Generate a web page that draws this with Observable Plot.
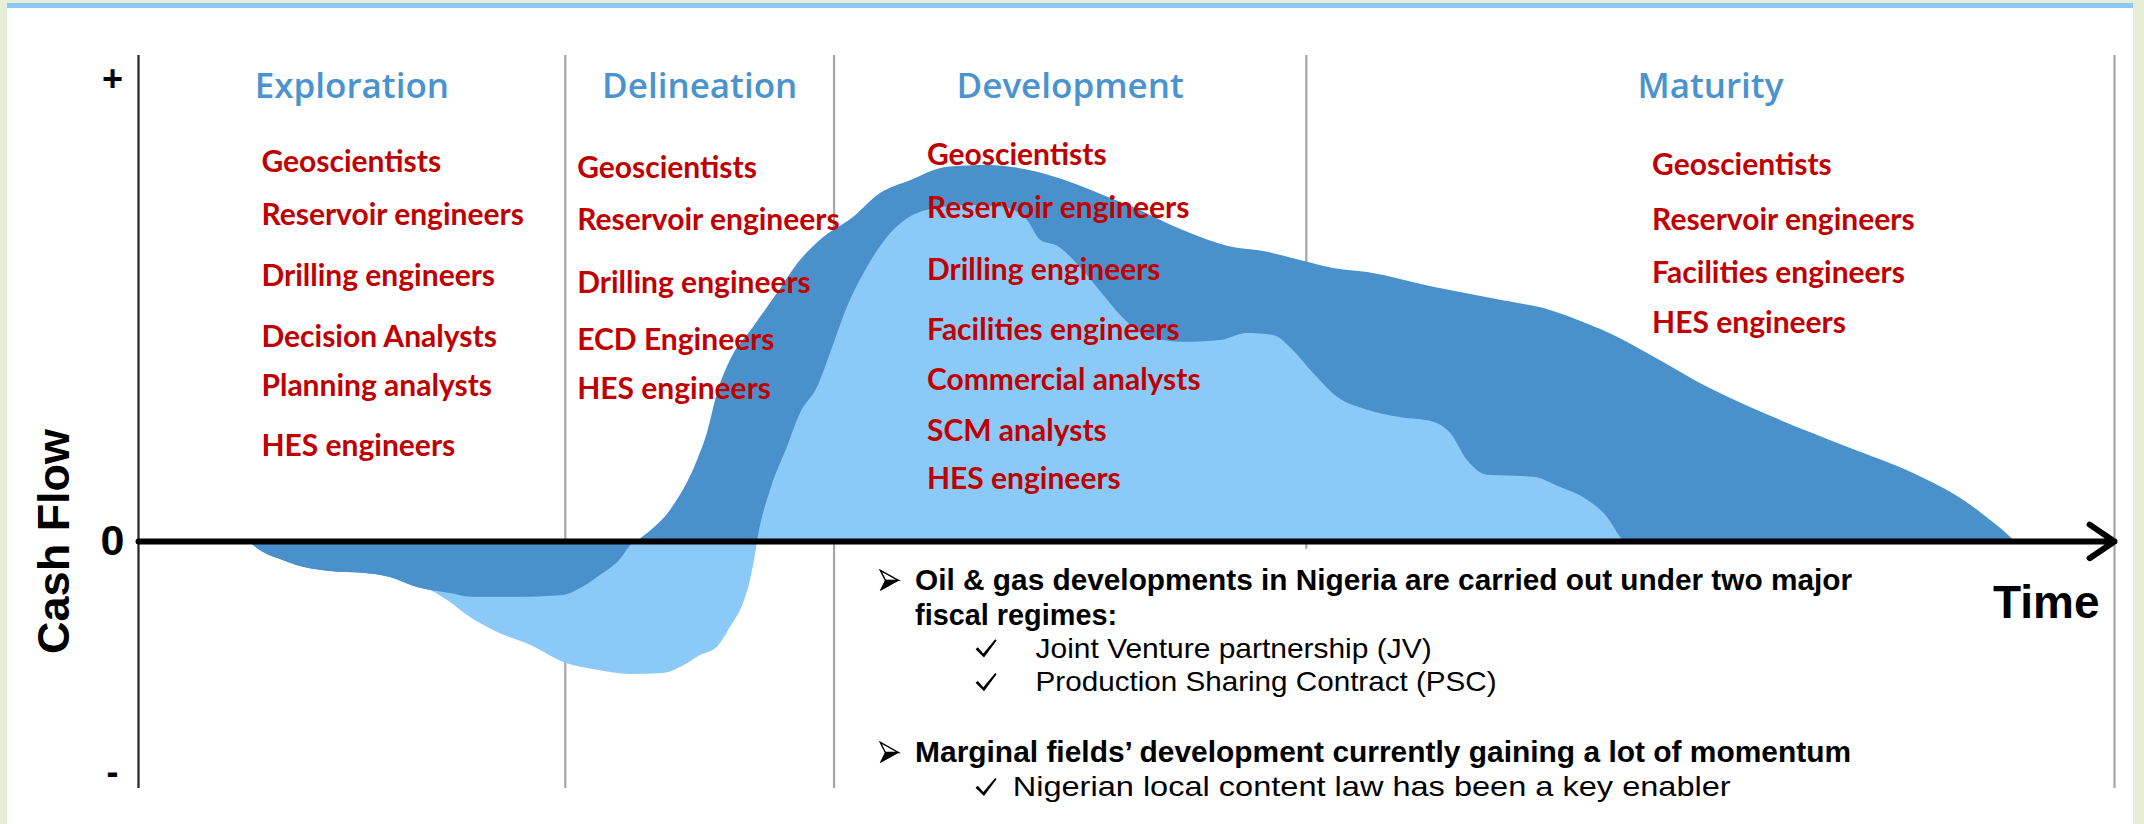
<!DOCTYPE html>
<html><head><meta charset="utf-8">
<script src="https://cdn.jsdelivr.net/npm/d3@7"></script>
<script src="https://cdn.jsdelivr.net/npm/@observablehq/plot@0.6"></script>
<style>
html,body{margin:0;padding:0;background:#e8edd5;width:2144px;height:824px;overflow:hidden}
#panel{position:absolute;left:7px;top:3px;width:2126px;height:821px;background:#fff;border-top:5px solid #8ccaf6;box-sizing:border-box}
#chart{position:absolute;left:0;top:0}
</style></head><body><div id="panel"></div><div id="chart"></div>
<script>
// ---------- DATA ----------
// Time (0 = y axis, 100 = end of the time arrow) and cash flow (+ = 100, - = -50)
const darkTime  = [5.57, 6.33, 7.19, 8.35, 9.72, 11.39, 12.75, 14.12, 15.79, 16.80, 18.98, 21.51, 22.37, 23.23, 24.24, 25.25, 25.76, 26.92, 28.29, 28.79, 29.30, 29.96, 31.12, 32.34, 33.50, 34.51, 36.18, 37.55, 39.07, 40.94, 42.97, 45.50, 47.17, 48.84, 50.35, 52.88, 55.11, 57.14, 58.81, 60.48, 62.20, 65.54, 68.93, 71.46, 73.13, 75.00, 76.37, 79.71, 83.10, 86.49, 89.83, 92.36, 93.72, 94.74, 94.94];
const darkValue = [0, -2.4, -3.9, -5.6, -6.5, -6.9, -7.8, -10.0, -11.3, -12.1, -12.1, -11.7, -10.2, -7.8, -4.6, 0, 1.7, 6.7, 17.5, 23.4, 32.0, 39.2, 46.3, 53.7, 60.8, 65.2, 70.1, 75.3, 78.1, 81.0, 81.4, 79.9, 77.7, 74.9, 72.3, 67.3, 63.9, 62.6, 60.8, 59.1, 58.2, 55.0, 52.2, 50.0, 47.4, 43.9, 40.7, 32.7, 26.2, 20.4, 14.7, 8.9, 4.6, 0.9, 0];
const lightTime  = [14.5, 15.64, 16.80, 18.17, 19.84, 21.51, 23.23, 24.90, 26.57, 27.43, 28.44, 29.30, 29.96, 30.62, 30.97, 31.22, 31.33, 31.98, 32.84, 33.50, 34.36, 35.02, 35.88, 36.89, 37.90, 39.22, 40.44, 42.11, 43.78, 44.99, 45.65, 46.51, 47.67, 48.84, 49.80, 51.21, 52.88, 54.76, 56.12, 57.44, 58.45, 59.46, 60.68, 62.20, 63.87, 65.54, 66.40, 67.26, 68.27, 70.60, 71.96, 73.33, 74.34, 75.00, 75.15];
const lightValue = [-10.0, -12.8, -16.5, -19.7, -22.5, -26.2, -27.9, -28.8, -28.6, -27.3, -24.7, -22.9, -18.6, -13.4, -8.4, -3.0, 0, 11.0, 20.4, 27.7, 33.3, 40.7, 50.7, 59.3, 65.8, 70.6, 72.1, 72.7, 72.3, 69.5, 65.2, 63.9, 59.3, 53.3, 48.5, 44.2, 43.1, 43.5, 45.0, 44.6, 41.3, 36.4, 31.2, 28.4, 26.8, 25.8, 23.4, 17.5, 14.3, 13.9, 11.7, 8.9, 5.2, 0.9, 0];

const phaseNames = ["Exploration", "Delineation", "Development", "Maturity"];
const phaseStart = [0, 21.6, 35.2, 59.1];
const phaseEnd   = [21.6, 35.2, 59.1, 100];

const explorationRoles = ["Geoscientists", "Reservoir engineers", "Drilling engineers", "Decision Analysts", "Planning analysts", "HES engineers"];
const delineationRoles = ["Geoscientists", "Reservoir engineers", "Drilling engineers", "ECD Engineers", "HES engineers"];
const developmentRoles = ["Geoscientists", "Reservoir engineers", "Drilling engineers", "Facilities engineers", "Commercial analysts", "SCM analysts", "HES engineers"];
const maturityRoles    = ["Geoscientists", "Reservoir engineers", "Facilities engineers", "HES engineers"];

const yTickValues = [100, 0, -50];
const yTickLabels = ["+", "0", "-"];
const yTitle = "Cash Flow";
const xTitle = "Time";

const noteMarkers = ["arrow", "", "check", "check", "arrow", "check"];
const noteTexts = [
  "Oil & gas developments in Nigeria are carried out under two major",
  "fiscal regimes:",
  "Joint Venture partnership (JV)",
  "Production Sharing Contract (PSC)",
  "Marginal fields’ development currently gaining a lot of momentum",
  "Nigerian local content law has been a key enabler"
];
const noteBold = [true, true, false, false, true, false];

// ---------- LAYOUT / STYLE ----------
const DARK = "#4a91cb", LIGHT = "#8ac9f8", RED = "#c00000", HEAD = "#4a93cf";
const xDomain = [0, 100], yDomain = [-53.5, 105.2];
const layout = {
  roleX: [6.22, 22.2, 39.9, 76.6],
  roleY: [[82.0, 70.6, 57.4, 44.2, 33.5, 20.6], [80.7, 69.5, 55.8, 43.5, 32.9], [83.5, 72.1, 58.7, 45.7, 34.8, 23.8, 13.4], [81.4, 69.5, 58.0, 47.2]],
  dividerBottom: [yDomain[0], yDomain[0], -1.7, yDomain[0]],
  noteY: [-8.44, -16.0, -23.2, -30.5, -45.7, -53.2],
  noteTextX: [39.3, 39.3, 45.4, 45.4, 39.3, 44.24],
  noteMarkerX: [38.0, 38.0, 42.89, 42.89, 38.0, 42.89],
  noteWidth: [937, 202, 396, 461, 936, 718],
  timeY: -13.4
};

// custom marker symbols (size = pi r^2, drawn at r = 10 → unit scale)
const scaleOf = size => Math.sqrt(size / Math.PI) / 10;
const poly = (ctx, k, pts) => { pts.forEach(([a, b], j) => j ? ctx.lineTo(a * k, b * k) : ctx.moveTo(a * k, b * k)); ctx.closePath(); };
const checkSymbol = {draw(ctx, size) { poly(ctx, scaleOf(size), [[-10.5, 0.6], [-8.2, -1.3], [-2.7, 4.9], [9.2, -9.2], [10.6, -8.1], [-2.0, 9.0]]); }};
const arrowTop = {draw(ctx, size) { poly(ctx, scaleOf(size), [[-9, -10], [9, 0], [-4, 0]]); }};
const arrowBottom = {draw(ctx, size) { poly(ctx, scaleOf(size), [[-4, 0], [9, 0], [-9, 10]]); }};

const dark = darkTime.map((t, i) => ({t, v: darkValue[i]}));
const light = lightTime.map((t, i) => ({t, v: lightValue[i]}));
const phases = phaseNames.map((name, i) => ({name, start: phaseStart[i], end: phaseEnd[i]}));
const roles = [explorationRoles, delineationRoles, developmentRoles, maturityRoles]
  .flatMap((list, p) => list.map((role, j) => ({role, phase: p, row: j})));
const notes = noteTexts.map((text, i) => ({text, marker: noteMarkers[i], bold: noteBold[i], i}));
const arrows = notes.filter(d => d.marker === "arrow"), checks = notes.filter(d => d.marker === "check");
const mx = d => layout.noteMarkerX[d.i], my = d => layout.noteY[d.i];

const chart = Plot.plot({
  width: 2144, height: 824,
  marginLeft: 138, marginRight: 30, marginTop: 55, marginBottom: 36,
  x: {domain: xDomain, axis: null},
  y: {domain: yDomain, axis: null},
  style: {background: "transparent", overflow: "visible"},
  marks: [
    Plot.ruleX(phases, {x: "end", y1: yDomain[1], y2: (d, i) => layout.dividerBottom[i], stroke: "#a6a6a6", strokeWidth: 2.2}),
    Plot.areaY(dark, {x: "t", y1: 0, y2: "v", fill: DARK, curve: "monotone-x"}),
    Plot.areaY(light, {x: "t", y1: 0, y2: "v", fill: LIGHT, curve: "monotone-x"}),
    Plot.areaY(dark, {x: "t", y1: 0, y2: d => Math.min(0, d.v), fill: DARK, curve: "monotone-x"}),
    Plot.ruleX([xDomain[0]], {y1: yDomain[0], y2: yDomain[1], stroke: "#2a2a2a", strokeWidth: 2.3}),
    Plot.arrow([0], {x1: () => xDomain[0], x2: () => xDomain[1], y1: () => 0, y2: () => 0, stroke: "#000", strokeWidth: 6, headLength: 7.5, headAngle: 68}),
    // headers
    Plot.text(phases, {x: d => (d.start + d.end) / 2, text: "name", frameAnchor: "top", dy: 31, lineAnchor: "middle", textAnchor: "middle", fill: HEAD, fontSize: 35, fontWeight: 600, fontFamily: "Open Sans"}),
    // roles
    Plot.text(roles, {x: d => layout.roleX[d.phase], y: d => layout.roleY[d.phase][d.row], text: "role", textAnchor: "start", fill: RED, fontFamily: "Lato", fontWeight: 700, fontSize: 30}),
    // y ticks and titles
    Plot.text(yTickValues, {y: d => d, text: (d, i) => yTickLabels[i], frameAnchor: "left", dx: -26, textAnchor: "middle", fontSize: (d, i) => [36, 43, 36][i], fontWeight: 700, fontFamily: "Liberation Sans", fill: "#000"}),
    Plot.text([yTitle], {y: () => 0, frameAnchor: "left", dx: -84, rotate: -90, textAnchor: "middle", lineAnchor: "middle", text: d => d, fontSize: 45, fontWeight: 700, fontFamily: "Liberation Sans", fill: "#000"}),
    Plot.text([xTitle], {y: () => layout.timeY, frameAnchor: "right", dx: -15, textAnchor: "end", lineAnchor: "middle", text: d => d, fontSize: 46, fontWeight: 700, fontFamily: "Liberation Sans", fill: "#000"}),
    // note markers
    Plot.dot(arrows, {x: mx, y: my, r: 10, symbol: arrowTop, fill: "#fff", stroke: "#000", strokeWidth: 1.4}),
    Plot.dot(arrows, {x: mx, y: my, r: 10, symbol: arrowBottom, fill: "#000", stroke: "#000", strokeWidth: 1}),
    Plot.dot(checks, {x: mx, y: my, r: 10, symbol: checkSymbol, fill: "#000", stroke: "none"}),
    // note texts
    Plot.text(notes.filter(d => d.bold), {x: d => layout.noteTextX[d.i], y: my, text: "text", textAnchor: "start", fontFamily: "Liberation Sans", fontWeight: 700, fontSize: 30, fill: "#000"}),
    Plot.text(notes.filter(d => !d.bold), {x: d => layout.noteTextX[d.i], y: my, text: "text", textAnchor: "start", fontFamily: "Liberation Sans", fontWeight: 400, fontSize: 28, fill: "#000"})
  ]
});
// fit each note line to the reference's line width
d3.select(chart).selectAll("text").each(function () {
  const i = noteTexts.indexOf(this.textContent);
  if (i >= 0) d3.select(this).attr("textLength", layout.noteWidth[i]).attr("lengthAdjust", "spacingAndGlyphs");
});
document.getElementById("chart").appendChild(chart);
</script></body></html>
